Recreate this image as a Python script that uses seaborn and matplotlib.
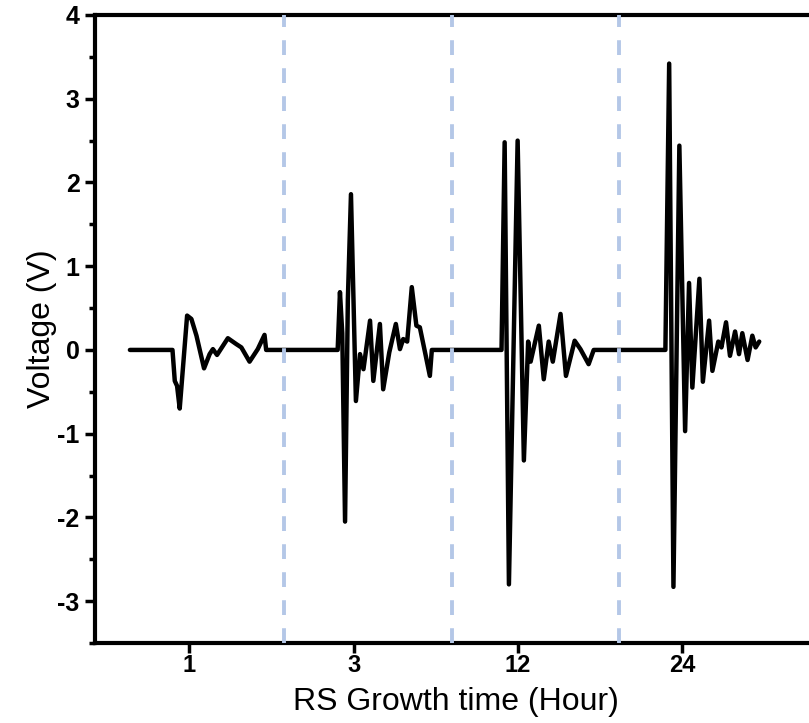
import numpy as np
import pandas as pd
import matplotlib
matplotlib.use("Agg")
import matplotlib.pyplot as plt
from matplotlib.ticker import MultipleLocator, FixedLocator
from matplotlib import font_manager
import seaborn as sns

# ---- data (x in category-position units, voltage in V) ----
seg1_x = [0.639, 0.898, 0.912, 0.926, 0.942, 0.987, 1.013, 1.044, 1.090, 1.124, 1.144, 1.169,
          1.235, 1.286, 1.317, 1.367, 1.417, 1.458, 1.468]
seg1_v = [0.0, 0.0, -0.37, -0.43, -0.70, 0.41, 0.37, 0.17, -0.22, -0.05, 0.01, -0.06,
          0.14, 0.07, 0.03, -0.14, 0.01, 0.18, 0.0]

seg2_x = [1.903, 1.917, 1.931, 1.948, 1.965, 1.984, 2.014, 2.039, 2.060, 2.100, 2.120, 2.160,
          2.180, 2.217, 2.257, 2.282, 2.302, 2.326, 2.354, 2.382, 2.403, 2.439, 2.464, 2.476]
seg2_v = [0.0, 0.69, 0.20, -2.05, 0.60, 1.86, -0.61, -0.05, -0.23, 0.35, -0.37, 0.31,
          -0.47, -0.03, 0.31, 0.01, 0.13, 0.10, 0.75, 0.29, 0.27, -0.07, -0.31, 0.0]

seg3_x = [2.900, 2.919, 2.945, 2.998, 3.036, 3.062, 3.077, 3.127, 3.157, 3.187, 3.212, 3.259,
          3.292, 3.345, 3.380, 3.430, 3.461]
seg3_v = [0.0, 2.48, -2.80, 2.50, -1.32, 0.10, -0.14, 0.29, -0.35, 0.10, -0.14, 0.43,
          -0.31, 0.11, 0.01, -0.17, 0.0]

seg4_x = [3.897, 3.920, 3.946, 3.982, 4.017, 4.041, 4.061, 4.104, 4.125, 4.163, 4.183, 4.219,
          4.238, 4.266, 4.290, 4.321, 4.345, 4.365, 4.397, 4.426, 4.446, 4.468]
seg4_v = [0.0, 3.42, -2.83, 2.44, -0.97, 0.80, -0.45, 0.85, -0.38, 0.35, -0.25, 0.10,
          0.03, 0.33, -0.07, 0.22, -0.05, 0.20, -0.12, 0.17, 0.03, 0.10]

tick_positions = [1, 2, 3, 4]
tick_labels = ["1", "3", "12", "24"]
divider_positions = [1.575, 2.600, 3.612]

df = pd.DataFrame({
    "x": seg1_x + seg2_x + seg3_x + seg4_x,
    "v": seg1_v + seg2_v + seg3_v + seg4_v,
})

sns.set_style("ticks")
plt.rcParams["font.family"] = ["Liberation Sans", "DejaVu Sans"]
plt.rcParams["axes.unicode_minus"] = False
plt.rcParams["text.color"] = "black"
plt.rcParams["axes.labelcolor"] = "black"
plt.rcParams["xtick.color"] = "black"
plt.rcParams["ytick.color"] = "black"

avail = {f.name for f in font_manager.fontManager.ttflist}
narrow = "Liberation Sans Narrow" if "Liberation Sans Narrow" in avail else "Liberation Sans"

fig = plt.figure(figsize=(8.09, 7.23), dpi=100)
ax = fig.add_axes([95 / 809, 1 - 643 / 723, 1 - 95 / 809 + 0.01, (643 - 15) / 723])

for xp in divider_positions:
    ax.axvline(xp, color="#b4c7e7", lw=2.8, dashes=(3.8, 3.4), zorder=3)

sns.lineplot(data=df, x="x", y="v", sort=False, estimator=None, color="black",
             lw=3.2, ax=ax, zorder=2)
for ln in ax.get_lines():
    ln.set_solid_joinstyle("round")
    ln.set_solid_capstyle("round")

ax.set_xlim(0.4266, 4.82)

ax.xaxis.set_major_locator(FixedLocator(tick_positions))
ax.set_xticklabels(tick_labels, fontfamily=narrow, fontweight="bold", fontsize=17)
y_ticks = [-3, -2, -1, 0, 1, 2, 3, 4]
ax.set_yticks(y_ticks)
ax.set_yticklabels([str(t) for t in y_ticks], fontweight="bold", fontsize=18)
ax.yaxis.set_minor_locator(MultipleLocator(0.5))
ax.set_ylim(-3.5, 4)

ax.tick_params(axis="both", which="major", direction="out", length=7, width=2.5, color="black")
ax.tick_params(axis="y", which="minor", direction="out", length=4.5, width=2.5, color="black")
ax.tick_params(axis="x", which="major", length=7, pad=1)
ax.tick_params(axis="y", which="major", pad=4)

for side in ["left", "bottom", "top"]:
    ax.spines[side].set_linewidth(3)
    ax.spines[side].set_color("black")
ax.spines["right"].set_visible(False)

ax.set_xlabel("RS Growth time (Hour)", fontsize=23, labelpad=7)
ax.set_ylabel("Voltage (V)", fontsize=23, labelpad=0)

fig.savefig("out.png", dpi=100)
